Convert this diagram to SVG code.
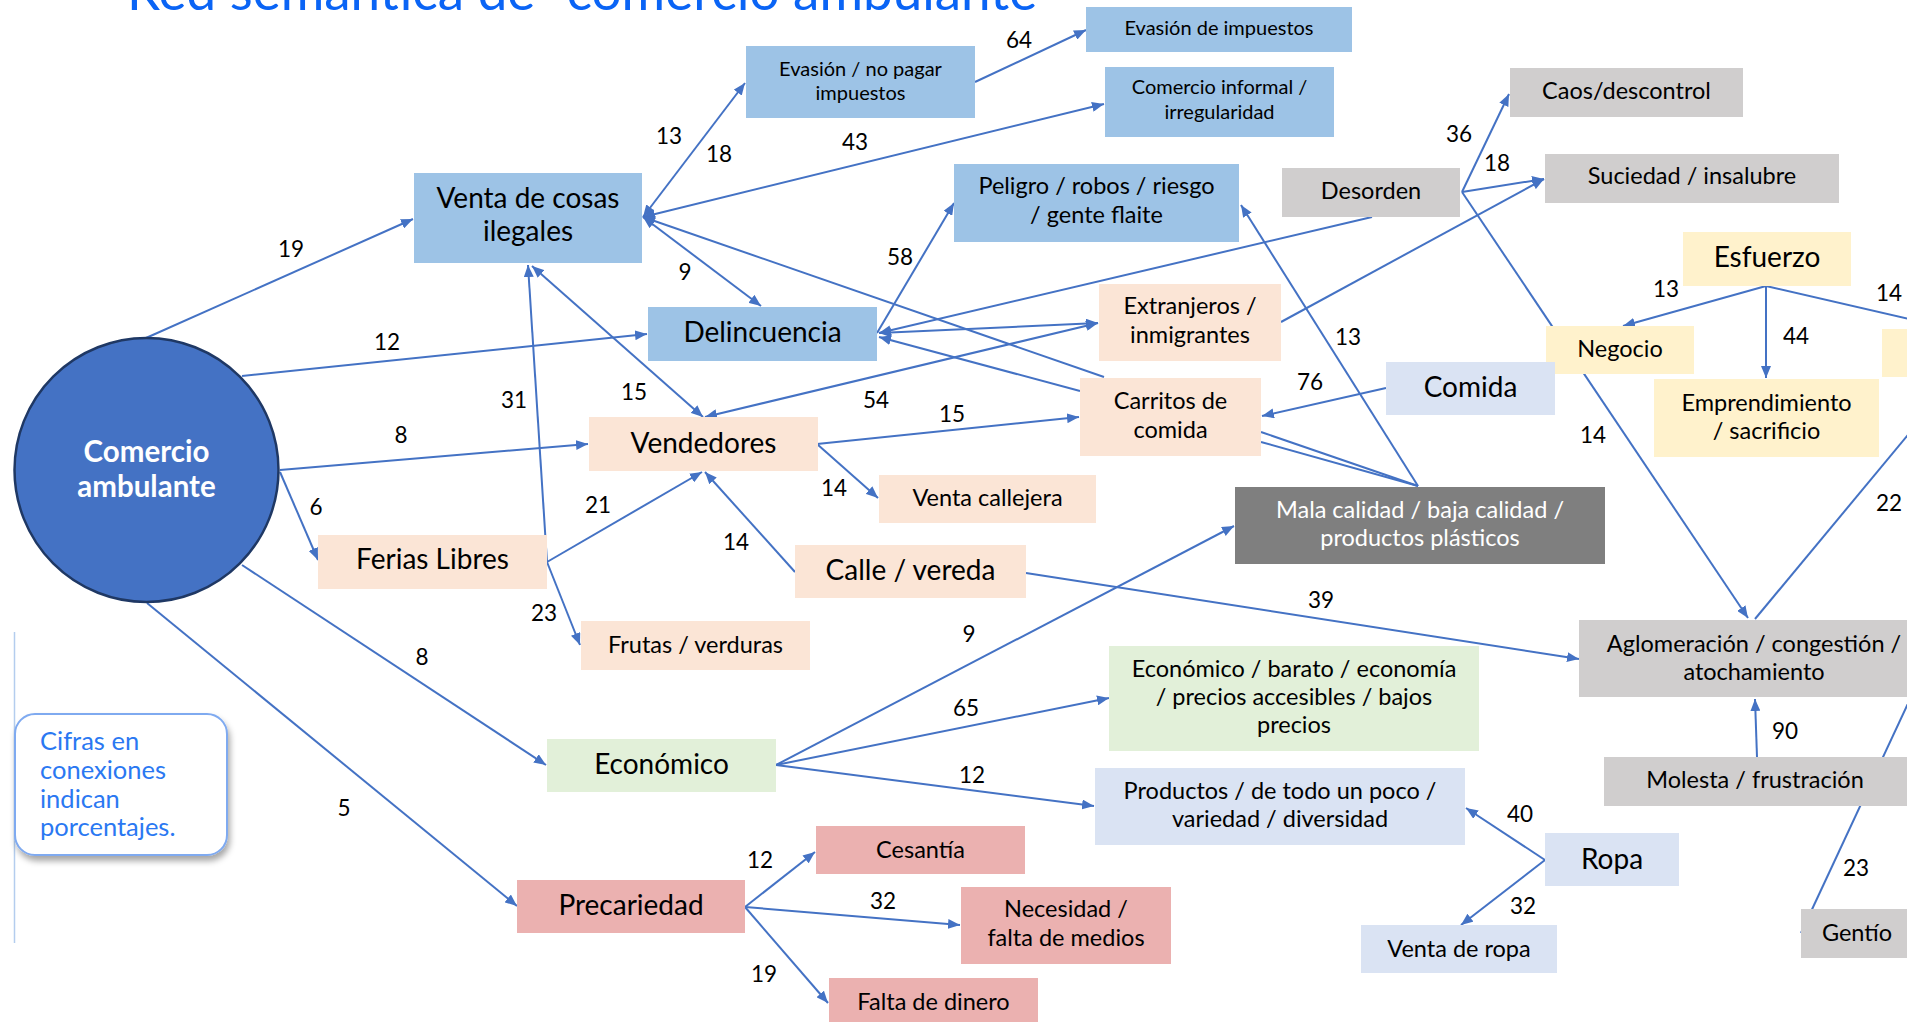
<svg xmlns="http://www.w3.org/2000/svg" width="1907" height="1022" viewBox="0 0 1907 1022">
<style>
.e{stroke:#4472c4;stroke-width:2;fill:none}
.a{marker-end:url(#ah)}
.b{marker-start:url(#ah);marker-end:url(#ah)}
.t{font-family:Lato,"Noto Sans","Liberation Sans",sans-serif;fill:#000;text-anchor:middle}
.L{font-size:28px}
.M{font-size:23.5px}
.S{font-size:20px}
.lbl{font-family:Lato,"Noto Sans","Liberation Sans",sans-serif;font-size:22.5px;fill:#000;text-anchor:middle}
.blue{fill:#9dc3e6}.peach{fill:#fbe5d6}.gray{fill:#d0cece}.yellow{fill:#fff2cc}
.lav{fill:#dae3f3}.green{fill:#e2f0d9}.dark{fill:#7f7f7f}.pink{fill:#ebb1b0}
</style>
<defs>
<marker id="ah" viewBox="0 0 12 10" refX="12" refY="5" markerWidth="12" markerHeight="10" markerUnits="userSpaceOnUse" orient="auto-start-reverse">
<path d="M0,0 L12,5 L0,10 z" fill="#4472c4"/>
</marker>
<filter id="sh" x="-10%" y="-10%" width="130%" height="140%">
<feDropShadow dx="2" dy="5" stdDeviation="3" flood-color="#000" flood-opacity="0.35"/>
</filter>
</defs>
<rect width="1907" height="1022" fill="#fff"/>
<text x="127" y="10" font-family="Lato,'Noto Sans',sans-serif" font-weight="400" font-size="53" fill="#0a64f5">Red semántica de “comercio ambulante”</text>
<line x1="14.5" y1="632" x2="14.5" y2="943" stroke="#b4cdee" stroke-width="1.5"/>

<g id="connectors">
<line class="e a" x1="146" y1="338" x2="413" y2="219"/>
<line class="e a" x1="242" y1="376" x2="647" y2="334"/>
<line class="e a" x1="280" y1="470" x2="588" y2="444"/>
<line class="e a" x1="280" y1="472" x2="318" y2="560"/>
<line class="e a" x1="242" y1="565" x2="546" y2="765"/>
<line class="e a" x1="147" y1="603" x2="517" y2="906"/>
<line class="e b" x1="643" y1="217" x2="745" y2="83"/>
<line class="e a" x1="975" y1="82" x2="1086" y2="30"/>
<line class="e b" x1="643" y1="217" x2="1104" y2="104"/>
<line class="e b" x1="643" y1="217" x2="761" y2="306"/>
<line class="e b" x1="532" y1="266" x2="703" y2="417"/>
<line class="e a" x1="547" y1="562" x2="528" y2="265"/>
<line class="e a" x1="547" y1="562" x2="580" y2="645"/>
<line class="e a" x1="547" y1="562" x2="702" y2="472"/>
<line class="e a" x1="795" y1="572" x2="705" y2="472"/>
<line class="e a" x1="817" y1="444" x2="878" y2="498"/>
<line class="e a" x1="817" y1="444" x2="1079" y2="417"/>
<line class="e b" x1="705" y1="417" x2="1098" y2="323"/>
<line class="e b" x1="879" y1="333" x2="1098" y2="323"/>
<line class="e a" x1="1372" y1="217" x2="879" y2="333"/>
<line class="e a" x1="1080" y1="391" x2="879" y2="337"/>
<line class="e a" x1="1104" y1="377" x2="643" y2="217"/>
<line class="e a" x1="877" y1="333" x2="954" y2="203"/>
<line class="e a" x1="1418" y1="486" x2="1241" y2="205"/>
<line class="e" x1="1261" y1="432" x2="1418" y2="486"/>
<line class="e" x1="1261" y1="442" x2="1418" y2="486"/>
<line class="e a" x1="1386" y1="388" x2="1262" y2="416"/>
<line class="e a" x1="1462" y1="192" x2="1509" y2="94"/>
<line class="e a" x1="1462" y1="192" x2="1544" y2="179"/>
<line class="e a" x1="1281" y1="322" x2="1544" y2="179"/>
<line class="e a" x1="1462" y1="192" x2="1748" y2="618"/>
<line class="e a" x1="1766" y1="286" x2="1623" y2="326"/>
<line class="e a" x1="1766" y1="286" x2="1766" y2="378"/>
<line class="e" x1="1766" y1="286" x2="1922" y2="322"/>
<line class="e" x1="1755" y1="619" x2="1922" y2="418"/>
<line class="e a" x1="1757" y1="757" x2="1755" y2="699"/>
<line class="e a" x1="1911" y1="697" x2="1801" y2="933"/>
<line class="e a" x1="1026" y1="573" x2="1579" y2="659"/>
<line class="e a" x1="776" y1="765" x2="1234" y2="526"/>
<line class="e a" x1="776" y1="765" x2="1109" y2="698"/>
<line class="e a" x1="776" y1="765" x2="1094" y2="806"/>
<line class="e a" x1="1545" y1="860" x2="1466" y2="808"/>
<line class="e a" x1="1545" y1="860" x2="1461" y2="925"/>
<line class="e a" x1="745" y1="907" x2="815" y2="852"/>
<line class="e a" x1="745" y1="907" x2="960" y2="925"/>
<line class="e a" x1="745" y1="907" x2="828" y2="1003"/>
<g>
<text class="lbl" x="291" y="257">19</text>
<text class="lbl" x="387" y="350">12</text>
<text class="lbl" x="401" y="443">8</text>
<text class="lbl" x="316" y="515">6</text>
<text class="lbl" x="422" y="665">8</text>
<text class="lbl" x="344" y="816">5</text>
<text class="lbl" x="669" y="144">13</text>
<text class="lbl" x="719" y="162">18</text>
<text class="lbl" x="1019" y="48">64</text>
<text class="lbl" x="855" y="150">43</text>
<text class="lbl" x="685" y="280">9</text>
<text class="lbl" x="900" y="265">58</text>
<text class="lbl" x="634" y="400">15</text>
<text class="lbl" x="514" y="408">31</text>
<text class="lbl" x="876" y="408">54</text>
<text class="lbl" x="952" y="422">15</text>
<text class="lbl" x="834" y="496">14</text>
<text class="lbl" x="598" y="513">21</text>
<text class="lbl" x="736" y="550">14</text>
<text class="lbl" x="544" y="621">23</text>
<text class="lbl" x="1459" y="142">36</text>
<text class="lbl" x="1497" y="171">18</text>
<text class="lbl" x="1348" y="345">13</text>
<text class="lbl" x="1310" y="390">76</text>
<text class="lbl" x="1666" y="297">13</text>
<text class="lbl" x="1796" y="344">44</text>
<text class="lbl" x="1889" y="301">14</text>
<text class="lbl" x="1593" y="443">14</text>
<text class="lbl" x="1889" y="511">22</text>
<text class="lbl" x="1321" y="608">39</text>
<text class="lbl" x="969" y="642">9</text>
<text class="lbl" x="966" y="716">65</text>
<text class="lbl" x="972" y="783">12</text>
<text class="lbl" x="1785" y="739">90</text>
<text class="lbl" x="1520" y="822">40</text>
<text class="lbl" x="1523" y="914">32</text>
<text class="lbl" x="1856" y="876">23</text>
<text class="lbl" x="760" y="868">12</text>
<text class="lbl" x="883" y="909">32</text>
<text class="lbl" x="764" y="982">19</text>
</g>
</g>

<g id="n-comercio"><circle cx="146.5" cy="470" r="132" fill="#4472c4" stroke="#1f3864" stroke-width="2.5"/>
<text class="t" x="146.5" y="462" font-size="29.5" font-weight="700" style="fill:#fff">Comercio</text>
<text class="t" x="146.5" y="497" font-size="29.5" font-weight="700" style="fill:#fff">ambulante</text></g>
<g id="n-venta"><rect class="blue" x="414" y="173" width="228" height="90"/><text class="t L" x="528" y="208">Venta de cosas</text><text class="t L" x="528" y="241">ilegales</text></g>
<g id="n-evasion1"><rect class="blue" x="746" y="46" width="229" height="72"/><text class="t S" x="860.5" y="76">Evasión / no pagar</text><text class="t S" x="860.5" y="100">impuestos</text></g>
<g id="n-evasion2"><rect class="blue" x="1086" y="7" width="266" height="45"/><text class="t S" x="1219" y="35">Evasión de impuestos</text></g>
<g id="n-informal"><rect class="blue" x="1105" y="67" width="229" height="70"/><text class="t S" x="1219.5" y="94">Comercio informal /</text><text class="t S" x="1219.5" y="119">irregularidad</text></g>
<g id="n-peligro"><rect class="blue" x="954" y="164" width="285" height="78"/><text class="t M" x="1096.5" y="194">Peligro / robos / riesgo</text><text class="t M" x="1096.5" y="223">/ gente flaite</text></g>
<g id="n-delincuencia"><rect class="blue" x="648" y="307" width="229" height="54"/><text class="t L" x="762.5" y="342">Delincuencia</text></g>
<g id="n-desorden"><rect class="gray" x="1282" y="168" width="178" height="49"/><text class="t M" x="1371" y="199">Desorden</text></g>
<g id="n-caos"><rect class="gray" x="1510" y="68" width="233" height="49"/><text class="t M" x="1626.5" y="99">Caos/descontrol</text></g>
<g id="n-suciedad"><rect class="gray" x="1545" y="154" width="294" height="49"/><text class="t M" x="1692" y="184">Suciedad / insalubre</text></g>
<g id="n-esfuerzo"><rect class="yellow" x="1683" y="232" width="168" height="54"/><text class="t L" x="1767" y="267">Esfuerzo</text></g>
<g id="n-negocio"><rect class="yellow" x="1546" y="326" width="148" height="48"/><text class="t M" x="1620" y="357">Negocio</text></g>
<g id="n-emprendimiento"><rect class="yellow" x="1654" y="379" width="225" height="78"/><text class="t M" x="1766.5" y="411">Emprendimiento</text><text class="t M" x="1766.5" y="439">/ sacrificio</text></g>
<g id="n-stub"><rect class="yellow" x="1882" y="329" width="40" height="48"/></g>
<g id="n-extranjeros"><rect class="peach" x="1099" y="284" width="182" height="77"/><text class="t M" x="1190" y="313.5">Extranjeros /</text><text class="t M" x="1190" y="343">inmigrantes</text></g>
<g id="n-vendedores"><rect class="peach" x="589" y="417" width="229" height="54"/><text class="t L" x="703.5" y="453">Vendedores</text></g>
<g id="n-carritos"><rect class="peach" x="1080" y="378" width="181" height="78"/><text class="t M" x="1170.5" y="408.5">Carritos de</text><text class="t M" x="1170.5" y="437.5">comida</text></g>
<g id="n-comida"><rect class="lav" x="1386" y="362" width="169" height="53"/><text class="t L" x="1470.5" y="397">Comida</text></g>
<g id="n-callejera"><rect class="peach" x="879" y="475" width="217" height="48"/><text class="t M" x="987.5" y="506">Venta callejera</text></g>
<g id="n-mala"><rect class="dark" x="1235" y="487" width="370" height="77"/><text class="t M" x="1420" y="518" style="fill:#fff">Mala calidad / baja calidad /</text><text class="t M" x="1420" y="546" style="fill:#fff">productos plásticos</text></g>
<g id="n-ferias"><rect class="peach" x="318" y="535" width="229" height="54"/><text class="t L" x="432.5" y="569">Ferias Libres</text></g>
<g id="n-calle"><rect class="peach" x="795" y="545" width="231" height="53"/><text class="t L" x="910.5" y="580">Calle / vereda</text></g>
<g id="n-frutas"><rect class="peach" x="581" y="621" width="229" height="49"/><text class="t M" x="695.5" y="653">Frutas / verduras</text></g>
<g id="n-aglomeracion"><rect class="gray" x="1579" y="620" width="350" height="77"/><text class="t M" x="1754" y="651.5">Aglomeración / congestión /</text><text class="t M" x="1754" y="680">atochamiento</text></g>
<g id="n-molesta"><rect class="gray" x="1604" y="757" width="303" height="49"/><text class="t M" x="1755" y="788">Molesta / frustración</text></g>
<g id="n-gentio"><rect class="gray" x="1801" y="909" width="112" height="49"/><text class="t M" x="1857" y="941">Gentío</text></g>
<g id="n-barato"><rect class="green" x="1109" y="646" width="370" height="105"/><text class="t M" x="1294" y="676.5">Económico / barato / economía</text><text class="t M" x="1294" y="704.5">/ precios accesibles / bajos</text><text class="t M" x="1294" y="733">precios</text></g>
<g id="n-economico"><rect class="green" x="547" y="739" width="229" height="53"/><text class="t L" x="661.5" y="774">Económico</text></g>
<g id="n-productos"><rect class="lav" x="1095" y="768" width="370" height="77"/><text class="t M" x="1280" y="799">Productos / de todo un poco /</text><text class="t M" x="1280" y="827">variedad / diversidad</text></g>
<g id="n-ropa"><rect class="lav" x="1545" y="833" width="134" height="53"/><text class="t L" x="1612" y="869">Ropa</text></g>
<g id="n-ventaropa"><rect class="lav" x="1361" y="925" width="196" height="48"/><text class="t M" x="1459" y="957">Venta de ropa</text></g>
<g id="n-precariedad"><rect class="pink" x="517" y="880" width="228" height="53"/><text class="t L" x="631" y="915">Precariedad</text></g>
<g id="n-cesantia"><rect class="pink" x="816" y="826" width="209" height="48"/><text class="t M" x="920.5" y="857.5">Cesantía</text></g>
<g id="n-necesidad"><rect class="pink" x="961" y="887" width="210" height="77"/><text class="t M" x="1066" y="917">Necesidad /</text><text class="t M" x="1066" y="946">falta de medios</text></g>
<g id="n-falta"><rect class="pink" x="829" y="978" width="209" height="50"/><text class="t M" x="933.5" y="1009.5">Falta de dinero</text></g>
<g id="n-nota"><rect x="15" y="714" width="212" height="141" rx="20" fill="#fff" stroke="#7faaf0" stroke-width="2" filter="url(#sh)"/>
<g font-family="Lato,'Noto Sans',sans-serif" font-weight="400" font-size="25.5" fill="#2a78f2">
<text x="40" y="750">Cifras en</text><text x="40" y="779">conexiones</text><text x="40" y="807.5">indican</text><text x="40" y="836">porcentajes.</text></g></g>
</svg>
